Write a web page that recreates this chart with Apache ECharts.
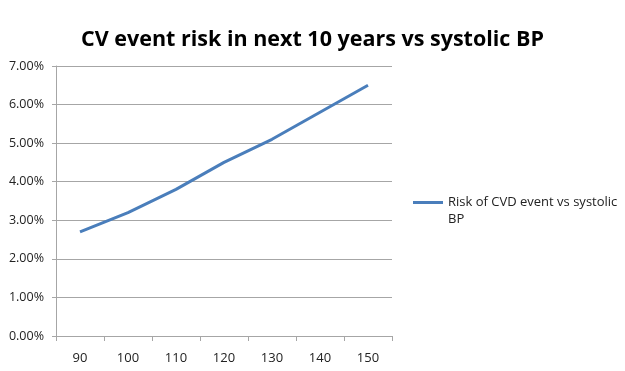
<!DOCTYPE html>
<html><head><meta charset="utf-8">
<script src="https://cdn.jsdelivr.net/npm/echarts@6/dist/echarts.min.js"></script>
<style>html,body{margin:0;padding:0;background:#fff}#c{width:625px;height:371px}</style>
</head><body><div id="c"></div>
<script>
const categories = ['90','100','110','120','130','140','150'];
const riskValues = [2.7, 3.2, 3.8, 4.5, 5.1, 5.8, 6.5];
const seriesName = 'Risk of CVD event vs systolic BP';
const titleText = 'CV event risk in next 10 years vs systolic BP';

const chart = echarts.init(document.getElementById('c'));
chart.setOption({
  animation: false,
  backgroundColor: '#fff',
  title: {
    text: titleText, left: 'center', top: 24,
    textStyle: {fontFamily: 'Open Sans', fontWeight: 'bold', fontSize: 21.5, color: '#000'}
  },
  grid: {left: 56, right: 233, top: 66, bottom: 35},
  legend: {
    left: 413, top: 177, padding: 0, itemWidth: 30, itemHeight: 3, itemGap: 4,
    icon: 'rect',
    formatter: function(n){ return ' \nRisk of CVD event vs systolic\nBP'; },
    textStyle: {fontFamily: 'Open Sans', fontSize: 13, color: '#222', lineHeight: 17},
    data: [{name: seriesName}]
  },
  xAxis: {
    type: 'category', data: categories, boundaryGap: true,
    axisLine: {lineStyle: {color: '#a6a6a6', width: 1}},
    axisTick: {show: true, length: 5, inside: false, lineStyle: {color: '#a6a6a6'}},
    axisLabel: {fontFamily: 'Open Sans', fontSize: 13, color: '#222', margin: 16}
  },
  yAxis: {
    type: 'value', min: 0, max: 7, interval: 1,
    axisLine: {show: true, lineStyle: {color: '#a6a6a6'}},
    axisTick: {show: true, length: 4, lineStyle: {color: '#a6a6a6'}},
    splitLine: {lineStyle: {color: '#a6a6a6'}},
    axisLabel: {fontFamily: 'Open Sans', fontSize: 12.5, color: '#222', margin: 12,
      formatter: v => v.toFixed(2) + '%'}
  },
  series: [{
    name: seriesName, type: 'line', data: riskValues,
    symbol: 'none', lineStyle: {color: '#4a7ebb', width: 3}, itemStyle: {color: '#4a7ebb'}
  }]
});
</script></body></html>
